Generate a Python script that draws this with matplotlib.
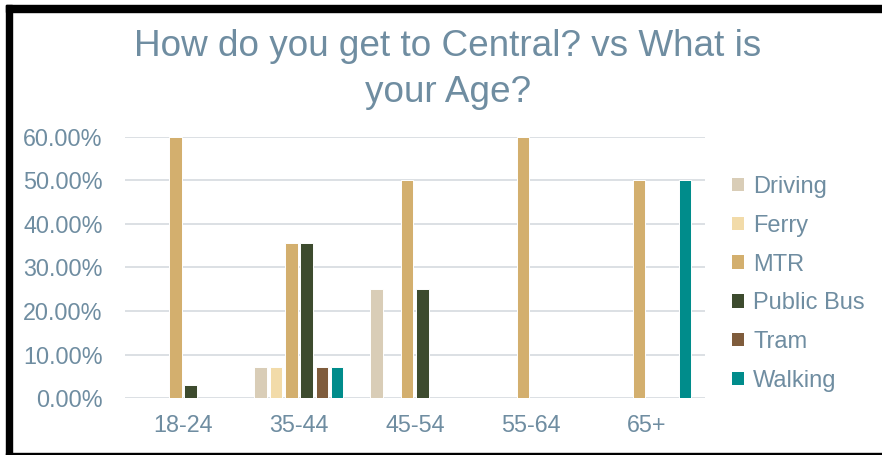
import numpy as np
import matplotlib.pyplot as plt
from matplotlib.patches import Rectangle, Patch

plt.rcParams['font.family'] = ['Liberation Sans', 'DejaVu Sans']

# data (percent)
ages = ["18-24", "35-44", "45-54", "55-64", "65+"]
modes = ["Driving", "Ferry", "MTR", "Public Bus", "Tram", "Walking"]
driving = [0, 7.14, 25.0, 0, 0]
ferry = [0, 7.14, 0, 0, 0]
mtr = [60.0, 35.71, 50.0, 60.0, 50.0]
public_bus = [3.03, 35.71, 25.0, 0, 0]
tram = [0, 7.14, 0, 0, 0]
walking = [0, 7.14, 0, 0, 50.0]
series = [driving, ferry, mtr, public_bus, tram, walking]
colors = ["#D9CDB7", "#F2DBA9", "#D3AF6E", "#3D4B2E", "#7F5C3C", "#008C8B"]

text_color = "#6F8DA1"
grid_color = "#D9DDE2"

fig = plt.figure(figsize=(8.82, 4.55), dpi=100)
ax = fig.add_axes([0.1417, 0.1246, 0.799 - 0.1417, 0.6996 - 0.1246])

x = np.arange(len(ages))
pitch = 0.132
width = 0.108
for i, (vals, col) in enumerate(zip(series, colors)):
    v = np.array(vals, dtype=float)
    v[v == 0] = np.nan  # excel draws nothing for empty cells
    ax.bar(x + (i - 2.5) * pitch, v, width, color=col, edgecolor="white",
           linewidth=0.7, zorder=3)

ax.set_xlim(-0.5, len(ages) - 0.5)
ax.set_ylim(0, 60)
ax.set_yticks(np.arange(0, 61, 10))
ax.set_yticklabels([f"{t:.2f}%" for t in np.arange(0, 61, 10)])
ax.set_xticks(x)
ax.set_xticklabels(ages)
ax.yaxis.grid(True, color=grid_color, linewidth=1.3, zorder=0)
ax.set_axisbelow(True)
for s in ax.spines.values():
    s.set_visible(False)
ax.tick_params(axis="both", length=0, labelsize=16.8, colors=text_color)
ax.tick_params(axis="y", pad=16)
ax.tick_params(axis="x", pad=11)

fig.text(448 / 882, 1 - 47 / 455, "How do you get to Central? vs What is",
         ha="center", va="center", fontsize=26.6, color=text_color)
fig.text(448 / 882, 1 - 93 / 455, "your Age?",
         ha="center", va="center", fontsize=26.6, color=text_color)

handles = [Patch(facecolor=c, edgecolor="none") for c in colors]
fig.legend(handles, modes, loc="upper left", bbox_to_anchor=(732 / 882, 1 - 176 / 455),
           frameon=False, fontsize=17, labelcolor=text_color, handlelength=0.5,
           handleheight=0.5, handletextpad=0.4, labelspacing=0.71, borderaxespad=0,
           borderpad=0)

# black frame like the screenshot
fig.patches.append(Rectangle((6 / 882, 1 - 12 / 455), 1, 7 / 455, transform=fig.transFigure,
                             color="black", zorder=10))
fig.patches.append(Rectangle((6 / 882, 0), 6 / 882, 1 - 5 / 455, transform=fig.transFigure,
                             color="black", zorder=10))
fig.patches.append(Rectangle((6 / 882, 0), 1, 2.5 / 455, transform=fig.transFigure,
                             color="black", zorder=10))

fig.savefig("out.png", dpi=100)
